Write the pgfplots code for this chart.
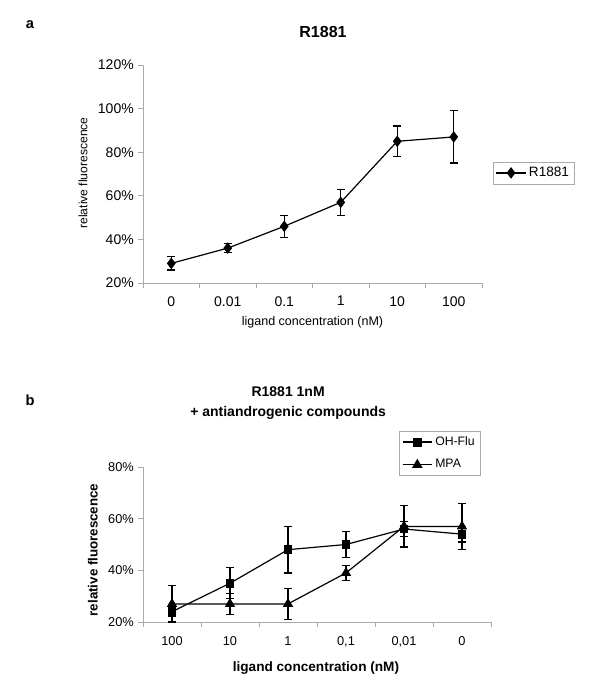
\documentclass[border=0pt]{standalone}
\usepackage{fontspec}
\setmainfont{Liberation Sans}
\usepackage{pgfplots}
\pgfplotsset{compat=1.18}

\definecolor{axisgray}{RGB}{170,170,170}

% 1 px of the reference = 0.75pt; page is 600 x 686 px = 450pt x 514.5pt
\pgfplotsset{
  excel/.style={
    scale only axis,
    xmin=-0.5, xmax=5.5,
    axis x line*=bottom, axis y line*=left,
    axis line style={draw=axisgray, line width=0.6pt, -},
    tick align=outside,
    xtick={0,...,5},
    minor xtick={-0.5,0.5,...,5.5},
    major x tick style={draw=none},
    tick style={draw=axisgray, line width=0.6pt},
    major tick length=3.4pt, minor tick length=3.4pt,
    legend cell align=left,
    legend image code/.code={
      \draw[mark repeat=2,mark phase=2,##1] plot coordinates {(0pt,0pt) (11pt,0pt) (22pt,0pt)};},
    error bars/error bar style={line width=0.9pt},
    error bars/error mark options={rotate=90, mark size=3pt, line width=0.9pt},
  },
}

\begin{document}
\begin{tikzpicture}
\path[use as bounding box] (0pt,0pt) rectangle (450pt,514.5pt);

\node[font=\fontsize{11}{13}\selectfont\bfseries] at (22.5pt,495.75pt) {a};
\node[font=\fontsize{11}{13}\selectfont\bfseries] at (22.5pt,214.5pt) {b};

% panel a
\begin{axis}[excel,
  at={(107.25pt,302.25pt)}, anchor=south west,
  width=254.25pt, height=163.5pt,
  ymin=20, ymax=120,
  ytick={20,40,...,120},
  yticklabels={20\%,40\%,60\%,80\%,100\%,120\%},
  xticklabels={0,0.01,0.1,1,10,100},
  ticklabel style={font=\fontsize{10.5}{12}\selectfont},
  xticklabel style={yshift=-3pt},
  title={\bfseries R1881},
  title style={at={(0.531,1.115)}, anchor=center, font=\fontsize{12}{14}\selectfont},
  xlabel={ligand concentration (nM)},
  xlabel style={at={(axis description cs:0.5,-0.179)}, anchor=center, font=\fontsize{9.4}{11}\selectfont},
  ylabel={relative fluorescence},
  ylabel style={at={(axis description cs:-0.177,0.505)}, anchor=center, rotate=0, font=\fontsize{9.1}{11}\selectfont},
  legend style={at={(1.032,0.505)}, anchor=west, draw=axisgray,
    font=\fontsize{10.2}{12}\selectfont, inner sep=2pt},
]
\addplot[black, line width=0.9pt, mark=diamond*, mark size=3.6pt,
  error bars/.cd, y dir=both, y explicit] coordinates {
  (0,29) +- (0,3)
  (1,36) +- (0,2)
  (2,46) +- (0,5)
  (3,57) +- (0,6)
  (4,85) +- (0,7)
  (5,87) +- (0,12)
};
\addlegendentry{R1881}
\end{axis}

% panel b
\begin{axis}[excel,
  at={(107.25pt,48pt)}, anchor=south west,
  width=261pt, height=116.25pt,
  ymin=20, ymax=80,
  ytick={20,40,60,80},
  yticklabels={20\%,40\%,60\%,80\%},
  xticklabels={100,10,1,{0,1},{0,01},0},
  ticklabel style={font=\fontsize{9.6}{11}\selectfont},
  xticklabel style={yshift=-4pt},
  title={\bfseries R1881 1nM\\\bfseries + antiandrogenic compounds},
  title style={at={(0.417,1.361)}, anchor=center, align=center,
    font=\fontsize{10.5}{15}\selectfont},
  xlabel={\bfseries ligand concentration (nM)},
  xlabel style={at={(axis description cs:0.497,-0.297)}, anchor=center, font=\fontsize{10.2}{12}\selectfont},
  ylabel={\bfseries relative fluorescence},
  ylabel style={at={(axis description cs:-0.144,0.465)}, anchor=center, rotate=0, font=\fontsize{10}{12}\selectfont},
  legend style={at={(0.736,1.232)}, anchor=north west, draw=axisgray,
    font=\fontsize{9.2}{11}\selectfont, inner sep=2pt,
    row sep=5pt},
]
\addplot[black, line width=0.9pt, mark=square*, mark size=2.9pt,
  error bars/.cd, y dir=both, y explicit] coordinates {
  (0,24) +- (0,2)
  (1,35) +- (0,6)
  (2,48) +- (0,9)
  (3,50) +- (0,5)
  (4,56) +- (0,3)
  (5,54) +- (0,3)
};
\addlegendentry{OH-Flu}
\addplot[black, line width=0.9pt, mark=triangle*, mark size=3.6pt,
  error bars/.cd, y dir=both, y explicit] coordinates {
  (0,27) +- (0,7)
  (1,27) +- (0,4)
  (2,27) +- (0,6)
  (3,39) +- (0,3)
  (4,57) +- (0,8)
  (5,57) +- (0,9)
};
\addlegendentry{MPA}
\end{axis}
\end{tikzpicture}
\end{document}
